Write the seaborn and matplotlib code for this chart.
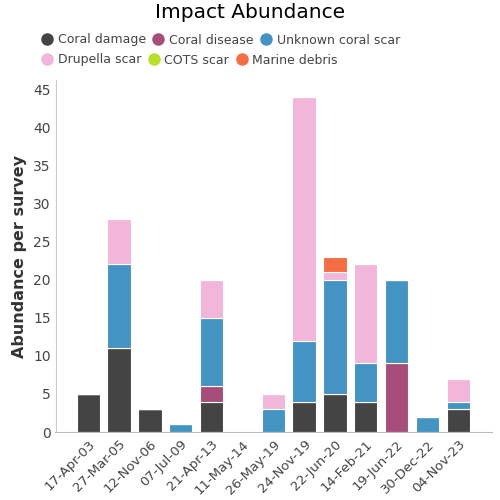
import pandas as pd
import numpy as np
import matplotlib
matplotlib.use('Agg')
import matplotlib.pyplot as plt
import seaborn as sns
from matplotlib.lines import Line2D

dates = ['17-Apr-03', '27-Mar-05', '12-Nov-06', '07-Jul-09', '21-Apr-13', '11-May-14',
         '26-May-19', '24-Nov-19', '22-Jun-20', '14-Feb-21', '19-Jun-22', '30-Dec-22', '04-Nov-23']
coral_damage = [5, 11, 3, 0, 4, 0, 0, 4, 5, 4, 0, 0, 3]
coral_disease = [0, 0, 0, 0, 2, 0, 0, 0, 0, 0, 9, 0, 0]
unknown_scar = [0, 11, 0, 1, 9, 0, 3, 8, 15, 5, 11, 2, 1]
drupella_scar = [0, 6, 0, 0, 5, 0, 2, 32, 1, 13, 0, 0, 3]
cots_scar = [0, 0, 0, 0, 0, 0, 0, 0, 0, 0, 0, 0, 0]
marine_debris = [0, 0, 0, 0, 0, 0, 0, 0, 2, 0, 0, 0, 0]

types = ['Coral damage', 'Coral disease', 'Unknown coral scar', 'Drupella scar', 'COTS scar', 'Marine debris']
colors = ['#444444', '#a64d79', '#4393c3', '#f1b6da', '#b8e02a', '#f46d43']
palette = dict(zip(types, colors))

df = pd.DataFrame({'date': dates, 'Coral damage': coral_damage, 'Coral disease': coral_disease,
                   'Unknown coral scar': unknown_scar, 'Drupella scar': drupella_scar,
                   'COTS scar': cots_scar, 'Marine debris': marine_debris})
long_df = df.melt(id_vars='date', var_name='type', value_name='count')
long_df['date'] = pd.Categorical(long_df['date'], categories=dates, ordered=True)

sns.set_style('white')
plt.rcParams['font.family'] = ['DejaVu Sans']
fig = plt.figure(figsize=(5, 5), dpi=100)
ax = fig.add_axes([0.111, 0.136, 0.873, 0.704])

# histplot stacks the last hue level at the bottom, so reverse the order
sns.histplot(data=long_df, x='date', weights='count', hue='type', hue_order=types[::-1],
             multiple='stack', discrete=True, shrink=0.755, palette=palette, alpha=1,
             edgecolor='white', linewidth=0.8, legend=False, ax=ax)

ax.set_ylim(0, 46.2)
ax.set_yticks(np.arange(0, 46, 5))
ax.set_xlim(-1.06, len(dates) - 1 + 1.09)
ax.set_xticks(range(len(dates)))
ax.set_xticklabels(dates, rotation=45, ha='right', rotation_mode='anchor', color='#444444', fontsize=9.5)
ax.tick_params(axis='y', labelcolor='#444444', labelsize=10, length=0)
ax.tick_params(axis='x', length=0, pad=4)
ax.set_xlabel('')
ax.set_ylabel('Abundance per survey', fontsize=11.5, fontweight='bold', color='#333333')
sns.despine(ax=ax, top=True, right=True)
ax.spines['left'].set_color('#cccccc')
ax.spines['bottom'].set_color('#bbbbbb')

fig.text(0.5, 0.974, 'Impact Abundance', ha='center', va='center', fontsize=14.5, color='black')

def handle(c):
    return Line2D([0], [0], marker='o', color='none', markerfacecolor=c, markeredgecolor=c, markersize=8)

row1 = fig.legend([handle(c) for c in colors[:3]], types[:3], loc='center left',
                  bbox_to_anchor=(0.053, 0.92), ncol=3, frameon=False, fontsize=9,
                  handletextpad=0.1, columnspacing=0.25, handlelength=1.5, labelcolor='#444444')
row2 = fig.legend([handle(c) for c in colors[3:]], types[3:], loc='center left',
                  bbox_to_anchor=(0.053, 0.88), ncol=3, frameon=False, fontsize=9,
                  handletextpad=0.1, columnspacing=0.25, handlelength=1.5, labelcolor='#444444')

fig.savefig('out.png', dpi=100)
